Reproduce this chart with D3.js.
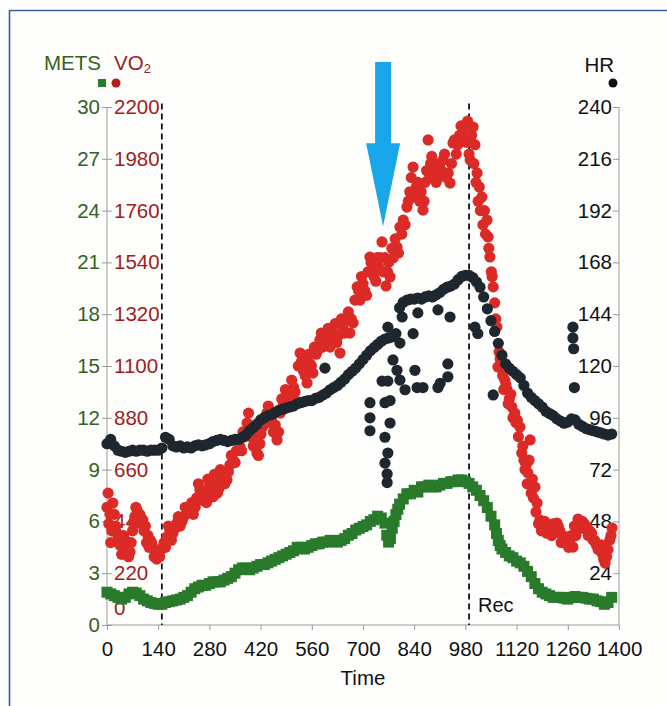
<!DOCTYPE html>
<html>
<head>
<meta charset="utf-8">
<script src="https://cdn.jsdelivr.net/npm/d3@7"></script>
<style>
  body { margin: 0; background: #ffffff; }
  svg text { font-family: "Liberation Sans", Arial, sans-serif; }
</style>
</head>
<body>
<svg id="CPET"></svg>
<script>
// values: [time (s), value]
var metsPts = [[0,1.9],[10,1.8],[20,1.7],[30,1.6],[40,1.5],[50,1.6],[60,1.8],[70,1.9],[80,1.85],[90,1.7],
  [100,1.5],[110,1.4],[120,1.3],[130,1.25],[140,1.2],[150,1.2],[160,1.3],[170,1.35],[180,1.4],[190,1.45],
  [200,1.5],[210,1.6],[220,1.7],[230,1.9],[240,2.1],[250,2.2],[260,2.3],[270,2.3],[280,2.4],[290,2.5],
  [300,2.5],[310,2.5],[320,2.6],[330,2.7],[340,2.8],[350,3.0],[360,3.2],[370,3.3],[380,3.3],[390,3.2],
  [400,3.3],[410,3.4],[420,3.5],[430,3.5],[440,3.6],[450,3.7],[460,3.8],[470,3.9],[480,4.0],[490,4.1],
  [500,4.2],[510,4.3],[520,4.5],[530,4.5],[540,4.4],[550,4.5],[560,4.6],[570,4.7],[580,4.7],[590,4.8],
  [600,4.8],[610,4.9],[620,4.9],[630,4.8],[640,4.9],[650,5.0],[660,5.2],[670,5.3],[680,5.5],[690,5.6],
  [700,5.7],[710,5.8],[720,6.0],[730,6.1],[740,6.3],[750,6.2],[760,5.9],[765,5.2],[770,4.8],[775,5.0],
  [780,5.6],[785,6.0],[790,6.4],[795,6.7],[800,7.0],[810,7.3],[820,7.6],[830,7.6],[840,7.8],[850,7.7],[860,8.0],[870,8.0],
  [880,8.1],[890,8.0],[900,8.0],[910,8.1],[920,8.2],[930,8.2],[940,8.3],[950,8.3],[960,8.4],[970,8.4],
  [980,8.3],[990,8.2],[1000,8.0],[1010,7.8],[1020,7.5],[1030,7.2],[1040,6.8],[1050,6.3],[1060,5.8],[1065,5.3],[1070,4.9],
  [1075,4.6],[1080,4.4],[1090,4.2],[1100,4.0],[1110,3.9],[1120,3.7],[1130,3.6],[1140,3.4],[1150,3.1],[1160,2.8],[1170,2.4],
  [1180,2.1],[1190,1.9],[1200,1.8],[1210,1.7],[1220,1.6],[1230,1.6],[1240,1.6],[1250,1.55],[1260,1.5],[1270,1.6],
  [1280,1.65],[1290,1.6],[1300,1.6],[1310,1.55],[1320,1.5],[1330,1.5],[1340,1.4],[1350,1.35],[1360,1.2],[1370,1.3],
  [1380,1.6]]

var vo2Pts = [[0,500],[5,430],[10,350],[16,518],[20,470],[27,390],[35,340],[45,380],[55,330],[63,310],
  [70,400],[76,460],[82,488],[90,470],[98,446],[105,420],[112,380],[118,361],[125,330],[132,310],
  [140,300],[148,320],[156,350],[164,374],[172,400],[180,390],[191,433],[200,420],[210,460],[219,476],
  [228,500],[236,470],[245,540],[254,573],[262,560],[272,520],[280,590],[290,544],[298,600],[306,580],
  [314,620],[322,600],[328,616],[336,680],[345,700],[354,740],[364,756],[372,820],[383,858],[392,800],
  [400,760],[410,730],[418,770],[425,840],[437,900],[445,860],[455,820],[465,786],[474,900],[483,940],
  [492,968],[500,985],[510,1010],[519,950],[528,1155],[537,1080],[547,1028],[555,1110],[563,1070],[572,1150],
  [582,1210],[590,1180],[601,1223],[610,1180],[620,1240],[628,1200],[637,1155],[645,1266],[655,1300],[664,1240],
  [673,1283],[684,1436],[692,1380],[700,1450],[710,1400],[719,1563],[726,1500],[735,1460],[743,1520],[752,1627],
  [760,1560],[767,1500],[774,1478],[783,1560],[793,1605],[801,1690],[810,1720],[820,1775],[828,1840],[837,1945],
  [846,1860],[855,1800],[864,1762],[870,1880],[878,2060],[885,1960],[891,1920],[900,1880],[910,1960],[919,1975],
  [928,1900],[938,1877],[946,2047],[955,2000],[964,2080],[974,2102],[983,2050],[990,2000],[993,1975],[1001,2115],
  [1006,2040],[1012,1920],[1018,1860],[1025,1818],[1032,1760],[1039,1720],[1042,1648],[1047,1563],[1051,1500],[1056,1436],
  [1060,1368],[1066,1266],[1069,1096],[1075,1130],[1082,1060],[1088,1040],[1094,998],[1100,960],[1107,926],[1115,900],
  [1122,870],[1129,841],[1134,730],[1140,700],[1146,680],[1151,646],[1157,786],[1163,620],[1170,586],[1176,518],
  [1184,446],[1192,420],[1203,390],[1212,400],[1220,430],[1230,433],[1238,400],[1245,380],[1258,374],[1266,350],
  [1274,331],[1282,380],[1293,433],[1300,440],[1312,416],[1320,400],[1329,361],[1338,340],[1348,331],[1355,300],
  [1362,263],[1370,320],[1375,361],[1381,412]]

// second pass over the red cloud: breaths on the other side of the band
var vo2Spread = [[3,560],[8,470],[13,400],[24,420],[31,360],[40,300],[50,360],[59,290],[66,350],[73,430],
  [79,500],[86,455],[94,430],[101,400],[108,350],[115,330],[122,350],[129,290],[136,280],[144,290],
  [152,330],[160,330],[168,420],[176,360],[185,410],[195,460],[205,440],[214,500],[224,480],[232,520],
  [241,500],[250,600],[258,530],[267,560],[276,620],[285,580],[294,640],[302,560],[310,660],[318,640],
  [332,650],[340,720],[350,690],[359,780],[368,740],[377,800],[387,900],[396,840],[405,800],[414,720],
  [421,810],[430,880],[441,930],[450,880],[460,850],[469,820],[478,960],[488,1000],[496,930],[505,1040],
  [514,990],[523,1100],[532,1120],[542,1060],[551,1150],[559,1100],[567,1180],[577,1170],[586,1240],[596,1200],
  [605,1260],[615,1210],[624,1280],[633,1230],[641,1300],[650,1240],[660,1330],[668,1300],[678,1380],[688,1420],
  [696,1480],[705,1420],[714,1500],[722,1540],[730,1480],[739,1560],[747,1560],[756,1500],[763,1440],[770,1540],
  [779,1600],[788,1640],[797,1580],[806,1660],[815,1700],[824,1800],[832,1900],[841,1820],[850,1880],[859,1840],
  [867,1800],[874,1930],[882,1900],[888,1990],[895,1960],[905,1900],[914,1930],[923,2000],[933,1920],[942,1960],
  [950,2060],[959,2040],[968,2120],[978,2060],[986,2140],[997,2080],[1003,1960],[1009,1880],[1015,1800],[1021,1760],
  [1028,1700],[1035,1660],[1044,1600],[1053,1480],[1063,1300],[1072,1160],[1079,1100],[1085,1000],[1091,1020],[1097,940],
  [1104,980],[1110,880],[1118,860],[1125,800],[1137,760],[1143,660],[1149,600],[1154,700],[1160,560],[1166,540],
  [1173,480],[1180,430],[1188,400],[1197,440],[1207,420],[1216,380],[1225,400],[1234,420],[1242,350],[1250,360],
  [1262,330],[1270,380],[1278,420],[1288,450],[1296,410],[1305,430],[1316,380],[1325,390],[1333,360],[1343,320],
  [1352,340],[1358,280],[1366,290],[1378,380]]

var hrPts = [[0,84],[10,86],[20,83],[30,81],[40,80.5],[50,80],[60,80.5],[70,81],[80,80.5],[90,81],
  [100,81],[110,80.5],[120,81],[130,81],[140,81],[150,82],[160,87],[170,86],[180,83],[190,82.5],
  [200,83],[210,82],[220,82.5],[230,82],[240,83],[250,83.5],[260,83],[270,83.5],[280,84],[290,85],
  [300,85.5],[310,86],[320,85.5],[330,85],[340,85.5],[350,86],[360,86],[370,87],[380,88],[390,90],
  [400,91.5],[410,93],[420,95],[430,96],[440,97],[450,97.5],[460,98.5],[470,99.5],[480,100],[490,100.5],
  [500,101],[510,101.5],[520,102.5],[530,103],[540,103.5],[550,104],[560,104],[570,105],[580,105.5],[590,106.5],
  [600,107.5],[610,109],[620,110],[630,111],[640,112.5],[650,114],[660,116],[670,117.5],[680,119],[690,121],
  [700,123],[710,125],[720,127],[730,128.5],[740,130],[750,131.5],[760,132.5],[770,133],[780,133.5],[790,135],
  [800,147],[810,149.5],[820,150.5],[830,151],[840,151],[850,151.5],[860,151],[870,152],[880,152.5],[890,152],
  [900,153],[910,154],[920,155.5],[930,156.5],[940,157],[950,158],[960,160],[970,161.5],[980,162],[990,162],
  [1000,161],[1010,159],[1020,156.5],[1030,152],[1040,146.5],[1050,141],[1060,136],[1070,130.5],[1080,125],[1090,121],
  [1100,119],[1110,117.5],[1120,116],[1130,114.5],[1140,111],[1150,107.5],[1160,105.5],[1170,104],[1180,102.5],[1190,101],
  [1200,99],[1210,98],[1220,97],[1230,95.5],[1240,94.5],[1250,93.5],[1260,94],[1270,95.5],[1280,95],[1290,93],
  [1300,92],[1310,91],[1320,90.5],[1330,90],[1340,89.5],[1350,89],[1360,88.5],[1370,88],[1380,88.5]]

// scattered HR beats below the main trace
var hrStray = [[596,119],[719,103],[719,96],[719,90],[752,113],[768,113],[760,103],[774,104],[774,93.6],[760,87],
  [768,79.7],[760,75],[766,70],[766,66],[768,138],[801,130.6],[782,122.8],[793,118],[801,113.5],[815,109],
  [837,135],[842,118],[848,110],[864,110],[905,110],[911,112],[932,121],[932,115],[807,142.7],[850,144.6],
  [905,146],[938,142.7],[1006,138],[1014,135],[1056,106.6],[1274,138],[1274,133],[1276,128],[1278,110]]

var timeTicks = [0,140,280,420,560,700,840,980,1120,1260,1400]
var metsTicks = [0,3,6,9,12,15,18,21,24,27,30]
var vo2Ticks = [0,220,440,660,880,1100,1320,1540,1760,1980,2200]
var hrTicks = [24,48,72,96,120,144,168,192,216,240]
var phaseMarks = [150, 990]   // start of exercise, start of recovery
var arrowTime = 755

var dimensions = {
    width: 667,
    height: 706,
    margin: { top: 107, bottom: 81, left: 107, right: 48 }
}

var colors = { mets: "#2a7a2c", vo2: "#dc2a26", hr: "#1e262e",
    metsText: "#35611f", vo2Text: "#a01d1d", axis: "#9a9a9a", frame: "#3d5a99" }

var svg = d3.select("#CPET")
    .attr("width", dimensions.width)
    .attr("height", dimensions.height)

var bottom = dimensions.height - dimensions.margin.bottom
var right = dimensions.width - dimensions.margin.right

var xScale = d3.scaleLinear().domain([0, 1400]).range([dimensions.margin.left, right])
var metsScale = d3.scaleLinear().domain([0, 30]).range([bottom, dimensions.margin.top])
var vo2Scale = d3.scaleLinear().domain([0, 2200]).range([bottom, dimensions.margin.top])
var hrScale = d3.scaleLinear().domain([0, 240]).range([bottom, dimensions.margin.top])

// paper + frame
svg.append("rect").attr("width", dimensions.width).attr("height", dimensions.height).attr("fill", "#fefefc")
svg.append("path")
    .attr("d", "M9.5," + dimensions.height + "V10.5H" + dimensions.width)
    .attr("fill", "none").attr("stroke", colors.frame).attr("stroke-width", 1.6)

var fmt = d3.format("d")

function styleAxis(g, color) {
    g.select(".domain").remove()
    g.selectAll("line").attr("stroke", colors.axis)
    g.selectAll("text").attr("fill", color).style("font-size", "20.5px")
}

// axes lines
svg.append("line").attr("x1", xScale(0)).attr("x2", xScale(0))
    .attr("y1", metsScale(30)).attr("y2", bottom).attr("stroke", colors.axis)
svg.append("line").attr("x1", right).attr("x2", right)
    .attr("y1", hrScale(240)).attr("y2", bottom).attr("stroke", colors.axis)
svg.append("line").attr("x1", xScale(0)).attr("x2", right)
    .attr("y1", bottom).attr("y2", bottom).attr("stroke", colors.axis)

svg.append("g")
    .attr("transform", "translate(" + xScale(0) + ",0)")
    .call(d3.axisLeft(metsScale).tickValues(metsTicks).tickFormat(fmt).tickSize(5).tickSizeOuter(0).tickPadding(2))
    .call(styleAxis, colors.metsText)

var vo2Axis = svg.append("g")
    .attr("transform", "translate(" + xScale(0) + ",0)")
    .call(d3.axisRight(vo2Scale).tickValues(vo2Ticks).tickFormat(fmt).tickSize(5).tickSizeOuter(0).tickPadding(2))
    .call(styleAxis, colors.vo2Text)
vo2Axis.selectAll(".tick").filter(d => d == 0).select("text").attr("dy", "-0.5em")

svg.append("g")
    .attr("transform", "translate(" + right + ",0)")
    .call(d3.axisLeft(hrScale).tickValues(hrTicks).tickFormat(fmt).tickSize(6).tickSizeOuter(0).tickPadding(1))
    .call(styleAxis, "#111")

svg.append("g")
    .attr("transform", "translate(0," + bottom + ")")
    .call(d3.axisBottom(xScale).tickValues(timeTicks).tickFormat(fmt).tickSize(5).tickSizeOuter(0).tickPadding(11))
    .call(styleAxis, "#111")

svg.append("text")
    .attr("x", xScale(700)).attr("y", bottom + 60)
    .attr("text-anchor", "middle").style("font-size", "20.5px").attr("fill", "#111")
    .text("Time")

// titles + legend symbols
svg.append("text").attr("x", xScale(0) - 6).attr("y", 70).attr("text-anchor", "end")
    .style("font-size", "20.5px").attr("fill", colors.metsText).text("METS")
var vo2Title = svg.append("text").attr("x", xScale(0) + 7).attr("y", 70)
    .style("font-size", "20.5px").attr("fill", colors.vo2Text).text("VO")
vo2Title.append("tspan").attr("dy", 3).style("font-size", "13px").text("2")
svg.append("rect").attr("x", xScale(0) - 9).attr("y", 79).attr("width", 8).attr("height", 8).attr("fill", colors.mets)
svg.append("circle").attr("cx", xScale(0) + 9).attr("cy", 83).attr("r", 4.5).attr("fill", "#b81d1d")
svg.append("text").attr("x", right - 5).attr("y", 72).attr("text-anchor", "end")
    .style("font-size", "20.5px").attr("fill", "#111").text("HR")
svg.append("circle").attr("cx", right - 6).attr("cy", 83).attr("r", 4.5).attr("fill", "#111")

// phase lines
svg.selectAll(".phase")
    .data(phaseMarks)
    .enter().append("line")
    .attr("class", "phase")
    .attr("x1", d => xScale(d)).attr("x2", d => xScale(d))
    .attr("y1", metsScale(30.2)).attr("y2", bottom)
    .attr("stroke", "#111").attr("stroke-width", 1.8).attr("stroke-dasharray", "6,4")

svg.append("text").attr("x", xScale(phaseMarks[1]) + 9).attr("y", bottom - 13)
    .style("font-size", "20px").attr("fill", "#111").text("Rec")

// data
svg.append("g").selectAll("circle")
    .data(vo2Pts.concat(vo2Spread))
    .enter().append("circle")
    .attr("cx", d => xScale(d[0]))
    .attr("cy", d => vo2Scale(d[1]))
    .attr("r", 5.6)
    .attr("fill", colors.vo2)

svg.append("g").selectAll("circle")
    .data(hrPts.concat(hrStray))
    .enter().append("circle")
    .attr("cx", d => xScale(d[0]))
    .attr("cy", d => hrScale(d[1]))
    .attr("r", 5.6)
    .attr("fill", colors.hr)

svg.append("g").selectAll("rect")
    .data(metsPts)
    .enter().append("rect")
    .attr("x", d => xScale(d[0]) - 5.5)
    .attr("y", d => metsScale(d[1]) - 5.5)
    .attr("width", 11).attr("height", 11)
    .attr("fill", colors.mets)

// blue arrow
var ax = xScale(arrowTime)
svg.append("path")
    .attr("d", "M" + (ax - 8) + "," + metsScale(32.6) + "V" + metsScale(27.9) + "H" + (ax - 17)
        + "L" + ax + "," + metsScale(23.1) + "L" + (ax + 17) + "," + metsScale(27.9)
        + "H" + (ax + 8) + "V" + metsScale(32.6) + "Z")
    .attr("fill", "#17a6ea")
</script>
</body>
</html>
